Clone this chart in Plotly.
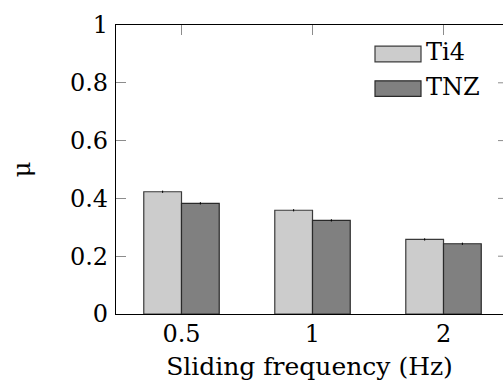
import plotly.graph_objects as go

# Friction coefficient by sliding frequency
categories = ["0.5", "1", "2"]
series_names = ["Ti4", "TNZ"]
ti4_mu = [0.423, 0.359, 0.258]
tnz_mu = [0.383, 0.324, 0.243]
ti4_err = [0.004, 0.004, 0.004]
tnz_err = [0.004, 0.004, 0.004]
y_ticks = [0, 0.2, 0.4, 0.6, 0.8, 1]

fills = ["#cccccc", "#808080"]
edges = ["#3a3a3a", "#2a2a2a"]
FONT = "'DejaVu Serif', serif"
FS = 24
TICK_GRAY = "#8c8c8c"

fig = go.Figure()
for name, vals, errs, fc, ec in zip(series_names, [ti4_mu, tnz_mu], [ti4_err, tnz_err], fills, edges):
    fig.add_trace(go.Bar(
        x=categories, y=vals, name=name,
        marker=dict(color=fc, line=dict(color=ec, width=1.2)),
        error_y=dict(type="data", array=errs, color="black", thickness=1, width=0),
        showlegend=False,
    ))

x_range = [-0.5, 2.454]
fig.update_layout(
    width=503, height=391,
    margin=dict(l=116, r=0, t=25, b=77),
    paper_bgcolor="white", plot_bgcolor="white",
    font=dict(family=FONT, size=FS, color="black"),
    barmode="group", bargap=0.424, bargroupgap=0,
    xaxis=dict(
        type="category", range=x_range, showgrid=False, zeroline=False,
        showline=True, linecolor="black", linewidth=1.2, mirror="ticks",
        ticks="inside", ticklen=10, tickcolor=TICK_GRAY, tickwidth=1,
        layer="below traces", ticklabelstandoff=-2,
        tickfont=dict(family=FONT, size=FS),
        title=dict(text="Sliding frequency (Hz)", font=dict(family=FONT, size=FS + 1), standoff=10),
    ),
    yaxis=dict(
        range=[0, 1], tickvals=y_ticks, ticktext=[f"{v:g}" for v in y_ticks],
        showgrid=False, zeroline=False,
        showline=True, linecolor="black", linewidth=1.2,
        ticks="inside", ticklen=10, tickcolor=TICK_GRAY, tickwidth=1,
        ticklabelstandoff=2, tickfont=dict(family=FONT, size=FS),
        title=dict(text="μ", font=dict(family=FONT, size=FS), standoff=32),
    ),
)

# tick marks along the right edge of the frame
for v in y_ticks[1:-1]:
    fig.add_shape(type="line", xref="paper", yref="y", x0=1 - 5 / 387, x1=1, y0=v, y1=v,
                  line=dict(color=TICK_GRAY, width=1))

# legend entries
for i, (name, fc, ec) in enumerate(zip(series_names, fills, edges)):
    yc = 0.8997 - i * 0.1197
    fig.add_shape(type="rect", xref="paper", yref="paper",
                  x0=(375 - 116) / 387, x1=(421 - 116) / 387,
                  y0=yc - 0.027, y1=yc + 0.027,
                  fillcolor=fc, line=dict(color=ec, width=1.2))
    fig.add_annotation(text=name, xref="paper", yref="paper",
                       x=(424 - 116) / 387, y=yc + 0.006, xanchor="left", yanchor="middle",
                       showarrow=False, font=dict(family=FONT, size=FS, color="black"))

fig.write_html("out.html")
